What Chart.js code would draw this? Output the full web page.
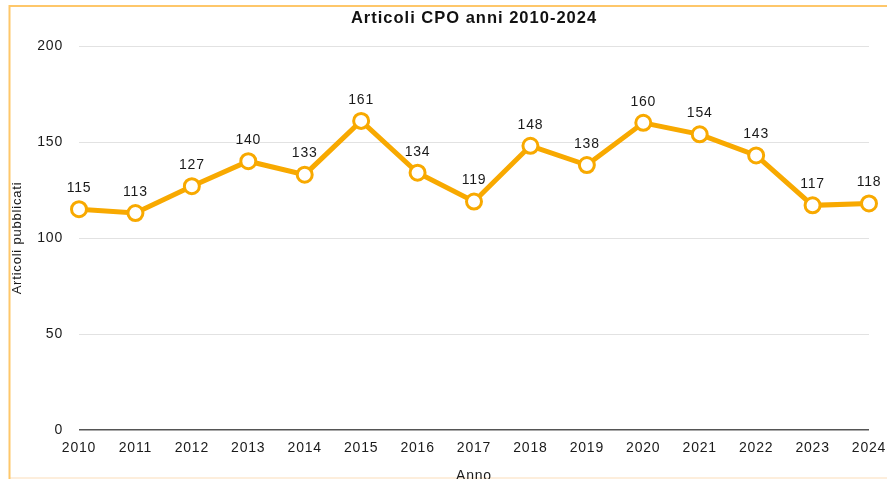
<!DOCTYPE html>
<html>
<head>
<meta charset="utf-8">
<script src="https://cdn.jsdelivr.net/npm/chart.js@4/dist/chart.umd.min.js"></script>
<style>
  html, body { margin: 0; padding: 0; background: #fff; overflow: hidden; }
  #wrap { position: absolute; left: 0; top: 0; width: 887px; height: 483px; }
</style>
</head>
<body>
<div id="wrap"><canvas id="chart"></canvas></div>
<script>
// Data
const anni = ['2010', '2011', '2012', '2013', '2014', '2015', '2016', '2017',
              '2018', '2019', '2020', '2021', '2022', '2023', '2024'];
const articoli = [115, 113, 127, 140, 133, 161, 134, 119, 148, 138, 160, 154, 143, 117, 118];
const titolo = 'Articoli CPO anni 2010-2024';

const orange = '#f8a900';
const textColor = '#1a1a1a';
const fontFamily = '"Liberation Sans", Arial, Helvetica, sans-serif';
const spacing = '0.8px';

// Wider letter spacing, like the original rendering
const spacingPlugin = {
    id: 'spacing',
    beforeLayout(chart) { chart.ctx.letterSpacing = spacing; },
    beforeDraw(chart) { chart.ctx.letterSpacing = spacing; }
};

// Orange frame and title (centred over the plot area)
const framePlugin = {
    id: 'frame',
    beforeDraw(chart) {
        const c = chart.ctx;
        c.save();
        c.lineWidth = 2;
        c.strokeStyle = '#fdeedc';
        c.beginPath();
        c.moveTo(9, 478);
        c.lineTo(887, 478);
        c.stroke();
        c.strokeStyle = '#fec76a';
        c.beginPath();
        c.moveTo(9.5, 479);
        c.lineTo(9.5, 6);
        c.lineTo(887, 6);
        c.stroke();

        const area = chart.chartArea;
        c.font = 'bold 16.5px ' + fontFamily;
        c.letterSpacing = '1px';
        c.fillStyle = '#111';
        c.textAlign = 'center';
        c.textBaseline = 'middle';
        c.fillText(titolo, (area.left + area.right) / 2, 18);
        c.restore();
    }
};

// Value labels above every point
const labelPlugin = {
    id: 'valueLabels',
    afterDatasetsDraw(chart) {
        const c = chart.ctx;
        const meta = chart.getDatasetMeta(0);
        c.save();
        c.font = '14px ' + fontFamily;
        c.fillStyle = textColor;
        c.textAlign = 'center';
        c.textBaseline = 'middle';
        meta.data.forEach((pt, i) => {
            c.fillText(String(articoli[i]), pt.x, pt.y - 21);
        });
        c.restore();
    }
};

const ctx = document.getElementById('chart').getContext('2d');
const chart = new Chart(ctx, {
    type: 'line',
    data: {
        labels: anni,
        datasets: [{
            label: 'Articoli',
            data: articoli,
            borderColor: orange,
            borderWidth: 5,
            pointRadius: 7.5,
            pointBorderWidth: 3,
            pointBackgroundColor: '#fff',
            pointBorderColor: orange,
            tension: 0,
            fill: false
        }]
    },
    options: {
        responsive: true,
        maintainAspectRatio: false,
        animation: false,
        layout: { padding: { left: 10, right: 18, top: 46, bottom: 0 } },
        plugins: {
            legend: { display: false },
            tooltip: { enabled: false },
            title: { display: false }
        },
        scales: {
            x: {
                offset: false,
                afterFit(scale) {
                    scale.height = 53;
                    scale.paddingLeft = 0;
                    scale.paddingRight = 0;
                },
                grid: { display: false, drawTicks: false },
                border: { display: false },
                ticks: {
                    color: textColor,
                    font: { family: fontFamily, size: 14 },
                    padding: 10,
                    maxRotation: 0,
                    autoSkip: false
                },
                title: {
                    display: true,
                    text: 'Anno',
                    color: textColor,
                    font: { family: fontFamily, size: 14 },
                    padding: { top: 0, bottom: -2 }
                }
            },
            y: {
                min: 0,
                max: 200,
                afterFit(scale) { scale.width = 69; },
                grid: {
                    drawTicks: false,
                    color: c => c.tick.value === 0 ? '#555' : '#e2e2e2',
                    lineWidth: c => c.tick.value === 0 ? 1.5 : 1
                },
                border: { display: false },
                ticks: {
                    stepSize: 50,
                    color: textColor,
                    font: { family: fontFamily, size: 14 },
                    padding: 16
                },
                title: {
                    display: true,
                    text: 'Articoli pubblicati',
                    color: textColor,
                    font: { family: fontFamily, size: 13 },
                    padding: { top: 0, bottom: 0 }
                }
            }
        }
    },
    plugins: [spacingPlugin, framePlugin, labelPlugin]
});
</script>
</body>
</html>
